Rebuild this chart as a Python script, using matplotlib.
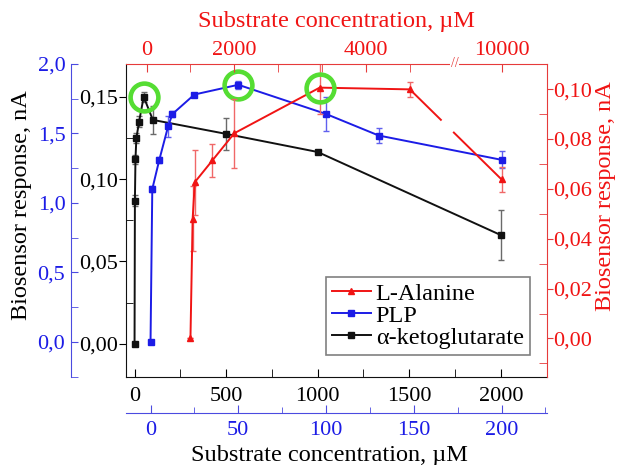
import numpy as np
import matplotlib.pyplot as plt
from matplotlib.lines import Line2D
from matplotlib.ticker import FuncFormatter, MultipleLocator, FixedLocator

plt.rcParams['font.family'] = ['Liberation Serif', 'DejaVu Serif']
plt.rcParams['lines.scale_dashes'] = False

# alpha-ketoglutarate: bottom black x (uM), left black y (nA)
keto_x = [0, 2, 5, 10, 25, 50, 100, 500, 1000, 2000]
keto_y = [0.0, 0.087, 0.112, 0.125, 0.135, 0.150, 0.136, 0.1275, 0.1165, 0.066]
keto_err = [0.0, 0.0035, 0.0025, 0.003, 0.0035, 0.003, 0.0085, 0.0095, 0.0, 0.015]

# PLP: bottom blue x (uM), left blue y (nA)
plp_x = [0, 1, 5, 10, 12.5, 25, 50, 100, 130, 200]
plp_y = [0.0, 1.10, 1.31, 1.55, 1.64, 1.78, 1.85, 1.64, 1.485, 1.31]
plp_err = [0.0, 0.02, 0.02, 0.075, 0.02, 0.01, 0.03, 0.125, 0.056, 0.06]

# L-Alanine: top red x (uM, broken axis), right red y (nA)
ala_x = [1000, 1050, 1100, 1500, 2000, 3300, 5950, 10000]
ala_y = [0.0, 0.048, 0.0627, 0.0714, 0.0823, 0.1006, 0.0999, 0.0638]
ala_err = [0.0, 0.013, 0.013, 0.0065, 0.0138, 0.0105, 0.003, 0.005]

# top axis is not linear in the original (broken axis)
top_conc = [-1000, 0, 2000, 4000, 10000, 14000]
top_pos = [-1, 0, 2, 5, 8.1, 10.17]
top_labels = [0, 2000, 4000, 10000]


def fwd(x):
    return np.interp(x, top_conc, top_pos)


def inv(u):
    return np.interp(u, top_pos, top_conc)


BLACK = '#111111'
BLUE = '#1c1ce6'
BLUE_AX = '#4b4be0'
RED = '#f01414'
RED_AX = '#e63a3a'
GREEN = '#55dd33'
TICK_FS = 16
LAB_FS = 17.5

comma2 = FuncFormatter(lambda v, p: f'{v:.2f}'.replace('.', ','))
comma1 = FuncFormatter(lambda v, p: f'{v:.1f}'.replace('.', ','))

fig = plt.figure(figsize=(6.17, 4.65), dpi=100)
rect = [0.205, 0.19, 0.681, 0.6725]
ax = fig.add_axes(rect)
axb = fig.add_axes(rect)
axr = fig.add_axes(rect)
for a in (axb, axr):
    a.patch.set_visible(False)

# ---- black axes
for s in ('top', 'right'):
    ax.spines[s].set_visible(False)
ax.spines['left'].set_color(BLACK)
ax.spines['bottom'].set_color(BLACK)
ax.set_xlim(-44, 2250)
ax.set_ylim(-0.02, 0.17)
ax.xaxis.set_major_locator(MultipleLocator(500))
ax.xaxis.set_minor_locator(MultipleLocator(250))
ax.yaxis.set_major_locator(MultipleLocator(0.05))
ax.yaxis.set_minor_locator(MultipleLocator(0.025))
ax.yaxis.set_major_formatter(comma2)
ax.tick_params(axis='x', which='both', direction='in', length=6, labelsize=TICK_FS, pad=7.5)
ax.tick_params(axis='y', which='major', direction='out', length=5, labelsize=TICK_FS, pad=1)
ax.tick_params(axis='y', which='minor', direction='in', length=5)
ax.errorbar(keto_x, keto_y, yerr=keto_err, fmt='none', ecolor='#6a6a6a', elinewidth=1, capsize=2.5)
ax.plot(keto_x, keto_y, color=BLACK, lw=1.4, marker='s', ms=4)
ki = int(np.argmax(keto_y))
ax.plot(keto_x[ki], keto_y[ki], 'o', ms=20, mfc='none', mec=GREEN, mew=3.3, clip_on=False)
ax.set_ylabel('Biosensor response, nA', fontsize=LAB_FS)
ax.yaxis.set_label_coords(-0.25, 0.55)
ax.yaxis.label.set_va('center')

# ---- blue axes
for s in ('top', 'right'):
    axb.spines[s].set_visible(False)
axb.spines['left'].set_position(('outward', 40))
axb.spines['bottom'].set_position(('outward', 26.5))
axb.spines['left'].set_color(BLUE_AX)
axb.spines['bottom'].set_color(BLUE_AX)
axb.set_xlim(-13.7, 225.7)
axb.set_ylim(-0.25, 2.0)
axb.xaxis.set_major_locator(MultipleLocator(50))
axb.xaxis.set_minor_locator(MultipleLocator(25))
axb.yaxis.set_major_locator(MultipleLocator(0.5))
axb.yaxis.set_minor_locator(MultipleLocator(0.25))
axb.yaxis.set_major_formatter(comma1)
axb.tick_params(axis='x', which='major', direction='in', length=6, color=BLUE_AX,
                labelcolor=BLUE, labelsize=TICK_FS, pad=5.5)
axb.tick_params(axis='x', which='minor', direction='in', length=4, color=BLUE_AX)
axb.tick_params(axis='y', which='both', direction='in', length=5, color=BLUE_AX,
                labelcolor=BLUE, labelsize=TICK_FS, pad=4)
axb.errorbar(plp_x, plp_y, yerr=plp_err, fmt='none', ecolor='#6060ee', elinewidth=1, capsize=2.5)
axb.plot(plp_x, plp_y, color=BLUE, lw=1.4, marker='s', ms=4)
bi = int(np.argmax(plp_y))
axb.plot(plp_x[bi], plp_y[bi], 'o', ms=20, mfc='none', mec=GREEN, mew=3.3, clip_on=False)
axb.set_xlabel('Substrate concentration, µM', fontsize=LAB_FS)
axb.xaxis.set_label_coords(0.484, -0.252)
axb.xaxis.label.set_va('center')

# ---- red axes
for s in ('left', 'bottom'):
    axr.spines[s].set_visible(False)
axr.spines['top'].set_color(RED_AX)
axr.spines['right'].set_color(RED_AX)
axr.xaxis.tick_top()
axr.yaxis.tick_right()
axr.xaxis.set_label_position('top')
axr.yaxis.set_label_position('right')
axr.set_xscale('function', functions=(fwd, inv))
axr.set_xlim(inv(-0.46), inv(9.13))
axr.set_ylim(-0.0153, 0.1101)
axr.xaxis.set_major_locator(FixedLocator(top_labels))
axr.xaxis.set_minor_locator(FixedLocator(inv([1, 3, 4, 6])))
axr.xaxis.set_major_formatter(FuncFormatter(lambda v, p: f'{v:.0f}'))
axr.xaxis.set_minor_formatter(FuncFormatter(lambda v, p: ''))
axr.yaxis.set_major_locator(MultipleLocator(0.02))
axr.yaxis.set_minor_locator(MultipleLocator(0.01))
axr.yaxis.set_major_formatter(comma2)
axr.tick_params(axis='x', which='both', direction='in', length=6, color=RED_AX,
                labelcolor=RED, labelsize=TICK_FS, pad=3)
axr.tick_params(axis='y', which='major', direction='out', length=4, color=RED_AX,
                labelcolor=RED, labelsize=TICK_FS, pad=1)
axr.tick_params(axis='y', which='minor', direction='in', length=6, color=RED_AX)
axr.errorbar(ala_x, ala_y, yerr=ala_err, fmt='none', ecolor='#f06868', elinewidth=1, capsize=2.5)
axr.plot(ala_x[:-1], ala_y[:-1], color=RED, lw=1.4)
# the segment across the axis break has a gap
axr.plot(ala_x[-2:], ala_y[-2:], color=RED, lw=1.4, ls=(0, (32, 11.7, 300, 1)))
axr.plot(ala_x, ala_y, ls='none', marker='^', ms=5, color=RED)
ri = int(np.argmax(ala_y))
axr.plot(ala_x[ri], ala_y[ri], 'o', ms=20, mfc='none', mec=GREEN, mew=3.3, clip_on=False)
axr.text(inv(7.03), 1.0, '//', transform=axr.get_xaxis_transform(), ha='center', va='center',
         color=RED_AX, fontsize=10, bbox=dict(fc='white', ec='none', pad=0.5))
axr.set_xlabel('Substrate concentration, µM', fontsize=LAB_FS, color=RED)
axr.xaxis.set_label_coords(0.5, 1.135)
axr.xaxis.label.set_va('center')
axr.set_ylabel('Biosensor response, nA', fontsize=LAB_FS, color=RED)
axr.yaxis.set_label_coords(1.141, 0.576)
axr.yaxis.label.set_va('center')

handles = [
    Line2D([], [], color=RED, lw=1.4, marker='^', ms=5),
    Line2D([], [], color=BLUE, lw=1.4, marker='s', ms=4),
    Line2D([], [], color=BLACK, lw=1.4, marker='s', ms=4),
]
leg = axr.legend(handles, ['L-Alanine', 'PLP', 'α-ketoglutarate'], loc='lower right',
                 bbox_to_anchor=(0.96, 0.069), borderaxespad=0, fontsize=LAB_FS,
                 fancybox=False, framealpha=1, edgecolor='#808080', handlelength=1.6,
                 handletextpad=0.2, labelspacing=0.0, borderpad=0.25, numpoints=1)
leg.get_frame().set_linewidth(1.2)

fig.savefig('out.png', dpi=100)
